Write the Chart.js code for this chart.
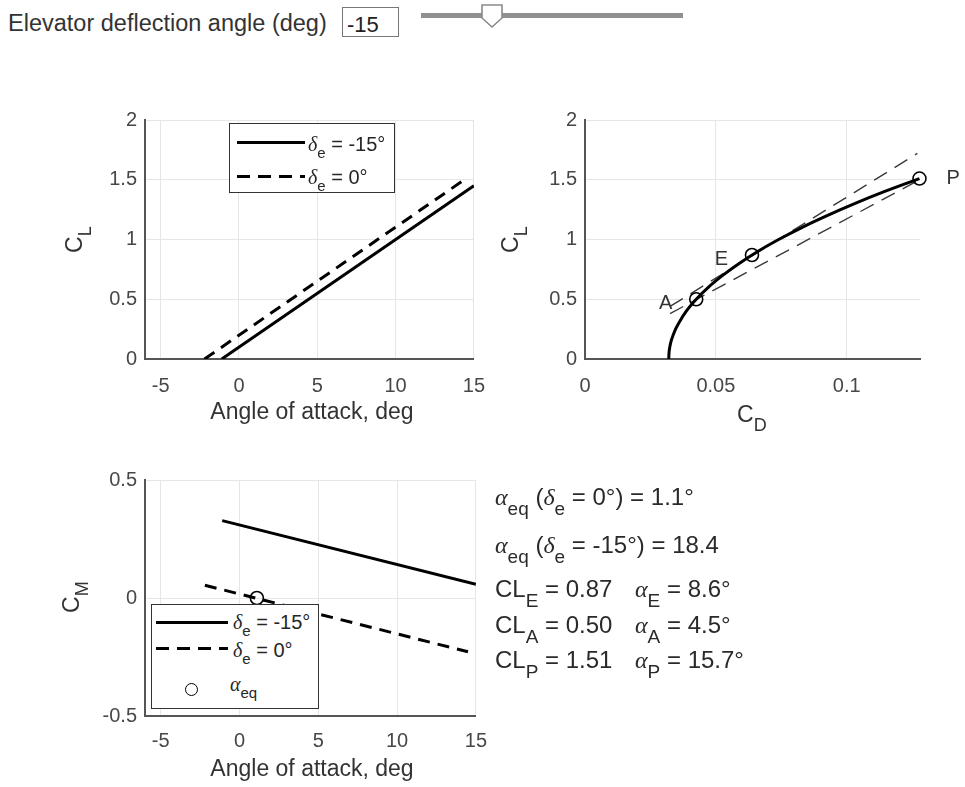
<!DOCTYPE html>
<html>
<head>
<meta charset="utf-8">
<script src="https://cdn.jsdelivr.net/npm/chart.js@4.4.1/dist/chart.umd.min.js"></script>
<style>
  body { margin: 0; background: #fff; font-family: "Liberation Sans", Arial, sans-serif; }
  #page { position: relative; width: 965px; height: 787px; overflow: hidden; }
  canvas { position: absolute; }
  .txt { position: absolute; white-space: nowrap; color: #333; font-size: 23px; line-height: 23px; }
  .txt sub { font-size: 18px; vertical-align: -9px; line-height: 0; }
  .g { font-family: "Liberation Serif", "DejaVu Serif", serif; font-style: italic; line-height: 0; }
  .rot { transform-origin: 0 0; transform: rotate(-90deg); }
  .res { font-size: 24px; line-height: 24px; color: #2a2a2a; }
  .res sub { font-size: 19px; vertical-align: -10px; }
  .legend { position: absolute; background: #fff; border: 1px solid #333; box-sizing: border-box; }
  .legend .txt { font-size: 20px; line-height: 20px; color: #262626; }
  .legend .txt sub { font-size: 15px; vertical-align: -7px; }
  .ln { position: absolute; height: 3px; background: #000; }
  .dash { position: absolute; height: 3px; background: repeating-linear-gradient(to right, #000 0 13px, transparent 13px 21px); }
  .mk { position: absolute; width: 11px; height: 11px; border: 1.6px solid #000; border-radius: 50%; }
</style>
</head>
<body>
<div id="page">
  <!-- header control -->
  <div class="txt" style="left:8px; top:12px; font-size:23.5px; line-height:23px;">Elevator deflection angle (deg)</div>
  <div style="position:absolute; left:342px; top:7px; width:57px; height:30px; border:1px solid #777; box-sizing:border-box;"></div>
  <div class="txt" id="deText" style="left:347px; top:13px; color:#222; font-size:22px;"></div>
  <div style="position:absolute; left:421px; top:13px; width:262px; height:5px; background:#909090;"></div>
  <svg style="position:absolute; left:480px; top:3px;" width="24" height="26">
    <polygon points="2,2 22,2 22,15 12,24 2,15" fill="#fff" stroke="#8a8a8a" stroke-width="1.6"/>
  </svg>

  <canvas id="clChart" width="460" height="340" style="left:40px; top:100px;"></canvas>
  <canvas id="polarChart" width="465" height="340" style="left:500px; top:100px;"></canvas>
  <canvas id="cmChart" width="460" height="327" style="left:40px; top:460px;"></canvas>

  <!-- axis titles -->
  <div class="txt" style="left:312px; top:400px; transform:translateX(-50%);">Angle of attack, deg</div>
  <div class="txt" style="left:312px; top:757px; transform:translateX(-50%);">Angle of attack, deg</div>
  <div class="txt" style="left:737px; top:403px;">C<sub>D</sub></div>
  <div class="txt rot" style="left:63px; top:253px;">C<sub>L</sub></div>
  <div class="txt rot" style="left:499px; top:253px;">C<sub>L</sub></div>
  <div class="txt rot" style="left:60px; top:613px;">C<sub>M</sub></div>

  <!-- legend of CL chart -->
  <div class="legend" style="left:229px; top:123px; width:166px; height:70px;">
    <div class="ln" style="left:7px; top:17px; width:68px;"></div>
    <div class="txt" id="lg1a" style="left:78px; top:10px;"></div>
    <div class="dash" style="left:7px; top:51px; width:68px;"></div>
    <div class="txt" id="lg1b" style="left:78px; top:43px;"></div>
  </div>

  <!-- legend of CM chart -->
  <div class="legend" style="left:151px; top:604px; width:168px; height:105px;">
    <div class="ln" style="left:4px; top:16px; width:72px;"></div>
    <div class="txt" id="lg3a" style="left:81px; top:7px;"></div>
    <div class="dash" style="left:4px; top:42px; width:72px;"></div>
    <div class="txt" id="lg3b" style="left:81px; top:35px;"></div>
    <div class="mk" style="left:33px; top:78px;"></div>
    <div class="txt" style="left:78px; top:69px;"><span class="g">α</span><sub>eq</sub></div>
  </div>

  <!-- results text -->
  <div id="results"></div>
</div>

<script>
// ---- values ----
const deflection = -15;

const aoaTicks = [-5, 0, 5, 10, 15];
const clTicks = [0, 0.5, 1, 1.5, 2];
const cdTicks = [0, 0.05, 0.1];
const cmTicks = [-0.5, 0, 0.5];

// lift curves (alpha, deg)
const aoaDeNeg15 = [-1.1, 15];
const clDeNeg15 = [0, 1.45];
const aoaDe0 = [-2.2, 14.5];
const clDe0 = [0, 1.51];

// moment curves, same alpha ranges
const cmDeNeg15 = [0.328, 0.058];
const cmDe0 = [0.054, -0.228];

// drag polar
const polarCL = [0, 0.05, 0.1, 0.15, 0.2, 0.25, 0.3, 0.4, 0.5, 0.6, 0.7, 0.8, 0.9, 1.0, 1.1, 1.2, 1.3, 1.4, 1.51];
const polarCD = [0.0320, 0.0321, 0.0324, 0.0329, 0.0337, 0.0346, 0.0358, 0.0387, 0.0425, 0.0471, 0.0526,
                 0.0589, 0.0660, 0.0740, 0.0828, 0.0925, 0.1030, 0.1143, 0.1278];

// dashed guides on the polar
const tangentCD = [0.0325, 0.127];
const tangentCL = [0.44, 1.72];
const chordCD = [0.0325, 0.127];
const chordCL = [0.38, 1.49];

// marked points
const ptNames = ['A', 'E', 'P'];
const ptCL = [0.50, 0.87, 1.51];
const ptCD = [0.0425, 0.0638, 0.1278];
const ptAlpha = [4.5, 8.6, 15.7];

const alphaEq0 = 1.1;
const alphaEqDe = 18.4;

const FONT = '"Liberation Sans", Arial, sans-serif';

const pts = (xs, ys) => xs.map((x, i) => ({ x: x, y: ys[i] }));

function axis(min, max, ticks, pad, fit) {
    return {
        type: 'linear', min: min, max: max,
        grid: { color: '#e6e6e6', drawTicks: false },
        border: { color: '#555', width: 2 },
        ticks: { color: '#474747', font: { size: 20, family: FONT }, padding: pad, callback: v => String(v) },
        afterBuildTicks: s => { s.ticks = ticks.map(v => ({ value: v })); },
        afterFit: fit
    };
}

function lineSet(data, dashed) {
    return {
        data: data, showLine: true, borderColor: '#000', borderWidth: 3,
        pointRadius: 0, borderDash: dashed ? [12, 8] : [], fill: false
    };
}

function guideSet(data) {
    return {
        data: data, showLine: true, borderColor: '#3a3a3a', borderWidth: 1.4,
        pointRadius: 0, borderDash: [15, 9], fill: false
    };
}

function markerSet(data) {
    return {
        data: data, showLine: false, pointRadius: 6.5, pointBorderWidth: 1.6,
        pointBorderColor: '#000', pointBackgroundColor: 'rgba(0,0,0,0)', clip: false
    };
}

function baseOptions(x, y, padding) {
    return {
        responsive: false, animation: false,
        layout: { padding: padding },
        plugins: { legend: { display: false }, tooltip: { enabled: false } },
        scales: { x: x, y: y }
    };
}

// ---- CL vs alpha ----
new Chart(document.getElementById('clChart'), {
    type: 'scatter',
    data: {
        datasets: [
            lineSet(pts(aoaDeNeg15, clDeNeg15), false),
            lineSet(pts(aoaDe0, clDe0), true)
        ]
    },
    options: baseOptions(
        axis(-6, 15, aoaTicks, 15, s => { s.height = 81; }),
        axis(0, 2, clTicks, 8, s => { s.width = 105; }),
        { top: 17, right: 21, left: 0, bottom: 0 })
});

// ---- drag polar ----
const pointLabels = {
    id: 'pointLabels',
    afterDatasetsDraw(chart) {
        const ctx = chart.ctx, x = chart.scales.x, y = chart.scales.y;
        ctx.save();
        ctx.font = '20px ' + FONT;
        ctx.fillStyle = '#333';
        ctx.textBaseline = 'middle';
        ptNames.forEach((n, i) => {
            const px = x.getPixelForValue(ptCD[i]);
            const py = y.getPixelForValue(ptCL[i]);
            if (n === 'P') {
                ctx.textAlign = 'left';
                ctx.fillText(n, px + 27, py);
            } else {
                ctx.textAlign = 'right';
                ctx.fillText(n, px - 24, py + 4);
            }
        });
        ctx.restore();
    }
};

new Chart(document.getElementById('polarChart'), {
    type: 'scatter',
    data: {
        datasets: [
            markerSet(pts(ptCD, ptCL)),
            Object.assign(lineSet(pts(polarCD, polarCL), false), { cubicInterpolationMode: 'monotone' }),
            guideSet(pts(tangentCD, tangentCL)),
            guideSet(pts(chordCD, chordCL))
        ]
    },
    options: baseOptions(
        axis(0, 0.128, cdTicks, 15, s => { s.height = 81; }),
        axis(0, 2, clTicks, 8, s => { s.width = 85; }),
        { top: 17, right: 45, left: 0, bottom: 0 }),
    plugins: [pointLabels]
});

// ---- CM vs alpha ----
new Chart(document.getElementById('cmChart'), {
    type: 'scatter',
    data: {
        datasets: [
            markerSet([{ x: alphaEq0, y: 0 }]),
            lineSet(pts(aoaDeNeg15, cmDeNeg15), false),
            lineSet(pts(aoaDe0, cmDe0), true)
        ]
    },
    options: baseOptions(
        axis(-6, 15, aoaTicks, 13, s => { s.height = 71; }),
        axis(-0.5, 0.5, cmTicks, 8, s => { s.width = 105; }),
        { top: 15, right: 21, left: 0, bottom: 0 })
});

// ---- texts ----
const de = v => '<span class="g">δ</span><sub>e</sub> = ' + v + '°';
document.getElementById('deText').textContent = String(deflection);
document.getElementById('lg1a').innerHTML = de(deflection);
document.getElementById('lg1b').innerHTML = de(0);
document.getElementById('lg3a').innerHTML = de(deflection);
document.getElementById('lg3b').innerHTML = de(0);

const aEq = '<span class="g">α</span><sub>eq</sub>';
const lines = [
    { top: 485, html: aEq + ' (' + de(0) + ') = ' + alphaEq0.toFixed(1) + '°' },
    { top: 533, html: aEq + ' (' + de(deflection) + ') = ' + alphaEqDe.toFixed(1) }
];
const order = [1, 0, 2]; // E, A, P
const rowTops = [577, 613, 648];
order.forEach((k, r) => {
    lines.push({
        top: rowTops[r],
        html: 'CL<sub>' + ptNames[k] + '</sub> = ' + ptCL[k].toFixed(2),
        html2: '<span class="g">α</span><sub>' + ptNames[k] + '</sub> = ' + ptAlpha[k].toFixed(1) + '°'
    });
});
const res = document.getElementById('results');
lines.forEach(l => {
    const d = document.createElement('div');
    d.className = 'txt res';
    d.style.left = '495px';
    d.style.top = l.top + 'px';
    d.innerHTML = l.html;
    res.appendChild(d);
    if (l.html2) {
        const d2 = document.createElement('div');
        d2.className = 'txt res';
        d2.style.left = '635px';
        d2.style.top = l.top + 'px';
        d2.innerHTML = l.html2;
        res.appendChild(d2);
    }
});
</script>
</body>
</html>
